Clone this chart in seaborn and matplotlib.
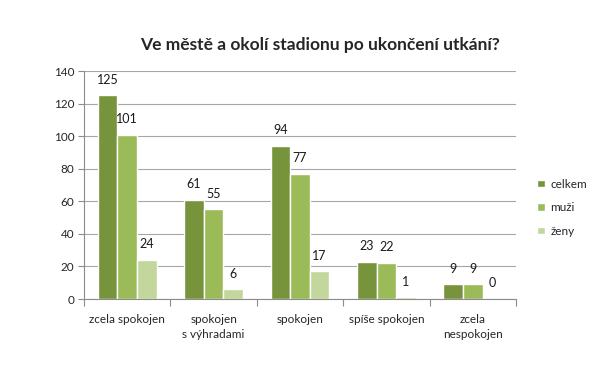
import seaborn as sns
import matplotlib.pyplot as plt
import pandas as pd
import numpy as np

kategorie = ['zcela spokojen', 'spokojen\ns výhradami', 'spokojen', 'spíše spokojen', 'zcela\nnespokojen']
skupiny = ['celkem', 'muži', 'ženy']
celkem = [125, 61, 94, 23, 9]
muzi = [101, 55, 77, 22, 9]
zeny = [24, 6, 17, 1, 0]
barvy = ['#77933C', '#9BBB59', '#C3D69B']

rows = []
for nazev, hodnoty in zip(skupiny, [celkem, muzi, zeny]):
    for k, v in zip(kategorie, hodnoty):
        rows.append({'kategorie': k, 'skupina': nazev, 'pocet': v})
df = pd.DataFrame(rows)

sns.set_style('white')
plt.rcParams['font.family'] = ['Lato', 'DejaVu Sans']

fig = plt.figure(figsize=(6.06, 3.84), dpi=100)
ax = fig.add_axes([84 / 606, 1 - 299 / 384, 432 / 606, 228 / 384])

sns.barplot(data=df, x='kategorie', y='pocet', hue='skupina', palette=barvy,
            width=0.68, edgecolor='white', linewidth=1, ax=ax, saturation=1)

for cont in ax.containers:
    ax.bar_label(cont, labels=[str(int(v)) for v in cont.datavalues],
                 padding=7, fontsize=9, color='#1a1a1a')

ax.set_ylim(0, 140)
ax.set_xlim(-0.5, 4.5)
ax.set_yticks(np.arange(0, 141, 20))
ax.yaxis.grid(True, color='#a6a6a6', linewidth=0.8)
ax.set_axisbelow(True)
ax.set_xlabel('')
ax.set_ylabel('')
for s in ['top', 'right']:
    ax.spines[s].set_visible(False)
for s in ['left', 'bottom']:
    ax.spines[s].set_color('#8c8c8c')
    ax.spines[s].set_linewidth(0.8)

ax.set_xticks(range(len(kategorie)))
ax.set_xticklabels(kategorie, fontsize=8.5, linespacing=1.45)
ax.set_xticks(np.arange(-0.5, 5, 1), minor=True)
ax.tick_params(axis='x', which='minor', length=5, color='#8c8c8c', width=0.8, direction='out')
ax.tick_params(axis='y', length=4, color='#8c8c8c', width=0.8, direction='out', labelsize=8.5, pad=3)
ax.tick_params(axis='both', bottom=True, left=True, which='both')
ax.tick_params(axis='x', which='major', length=0, pad=11)

ax.legend(loc='center left', bbox_to_anchor=(1.025, 0.40), frameon=False,
          fontsize=8.5, handlelength=0.6, handleheight=0.6, labelspacing=1.05,
          handletextpad=0.5)

fig.text(320 / 606, 1 - 45 / 384, 'Ve městě a okolí stadionu po ukončení utkání?',
         ha='center', va='center', fontsize=12.5, fontweight='bold')

fig.savefig('out.png', dpi=100)
